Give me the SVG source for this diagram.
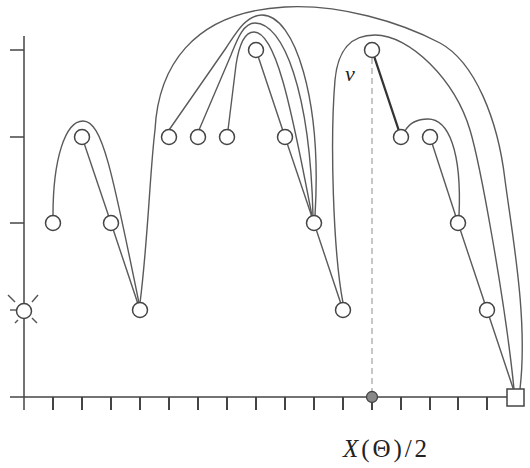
<svg xmlns="http://www.w3.org/2000/svg" width="530" height="468" viewBox="0 0 530 468">
<style>
.ax{stroke:#444;stroke-width:1.5;fill:none}
.tk{stroke:#444;stroke-width:2;fill:none}
.e{stroke:#5a5a5a;stroke-width:1.4;fill:none}
.c{stroke:#5a5a5a;stroke-width:1.4;fill:none}
.n{fill:#fff;stroke:#444;stroke-width:1.5}
.lbl{font-family:"Liberation Serif",serif;fill:#222}
</style>
<rect width="530" height="468" fill="#fff"/>
<g id="axes">
<line class="ax" x1="24" y1="36" x2="24" y2="410"/>
<line class="ax" x1="10" y1="397" x2="516" y2="397"/>
<line class="ax" x1="10" y1="50" x2="24" y2="50"/>
<line class="ax" x1="10" y1="137" x2="24" y2="137"/>
<line class="ax" x1="10" y1="223" x2="24" y2="223"/>
<g class="tk">
<line x1="53" y1="397" x2="53" y2="410"/><line x1="82" y1="397" x2="82" y2="410"/><line x1="111" y1="397" x2="111" y2="410"/><line x1="140" y1="397" x2="140" y2="410"/><line x1="169" y1="397" x2="169" y2="410"/><line x1="198" y1="397" x2="198" y2="410"/><line x1="227" y1="397" x2="227" y2="410"/><line x1="256" y1="397" x2="256" y2="410"/><line x1="285" y1="397" x2="285" y2="410"/><line x1="314" y1="397" x2="314" y2="410"/><line x1="343" y1="397" x2="343" y2="410"/><line x1="372" y1="397" x2="372" y2="410"/><line x1="401" y1="397" x2="401" y2="410"/><line x1="430" y1="397" x2="430" y2="410"/><line x1="458" y1="397" x2="458" y2="410"/><line x1="487" y1="397" x2="487" y2="410"/>
</g>
</g>
<g id="connectors">
<line class="e" x1="82" y1="137" x2="111" y2="223"/>
<line class="e" x1="111" y1="223" x2="140" y2="310"/>
<line class="e" x1="256" y1="50" x2="285" y2="137"/>
<line class="e" x1="285" y1="137" x2="314" y2="223"/>
<line class="e" x1="314" y1="223" x2="343" y2="310"/>
<line x1="372" y1="50" x2="401" y2="137" stroke="#333" stroke-width="2.3"/>
<line class="e" x1="430" y1="137" x2="458" y2="223"/>
<line class="e" x1="458" y1="223" x2="487" y2="310"/>
<line class="e" x1="487" y1="310" x2="516" y2="397"/>
<path class="c" d="M53,215 C53,160 65,121 83,121 C102,121 112,170 139,303"/>
<path class="c" d="M140,303 C148,240 150,170 155,130 C158,70 190,12 285,7 C340,4 400,22 440,43 C475,62 498,120 505,180 C513,240 528,320 520,389"/>
<path class="c" d="M169,130 L226,48 C236,33 246,15 262,15 C295,15 322,100 315,216"/>
<path class="c" d="M199,130 L231,55 C237,40 243,23 255,23 C283,23 310,90 313,216"/>
<path class="c" d="M228,130 L236,65 C239,45 244,32 254,32 C275,32 290,100 312,216"/>
<path class="c" d="M343,303 C333,250 330,140 335,80 C338,48 352,35 375,35 C410,35 455,80 470,130 C480,163 505,300 514,389"/>
<path class="c" d="M405,131 C410,122 418,119 428,119 C448,119 462,150 459,216"/>
<line x1="372" y1="58" x2="372" y2="391" stroke="#aaa" stroke-width="1.3" stroke-dasharray="6,4"/>
</g>
<g id="node-star">
<g stroke="#555" stroke-width="1.4">
<line x1="8" y1="295" x2="15" y2="302"/>
<line x1="38" y1="295" x2="32" y2="302"/>
<line x1="10" y1="310" x2="17" y2="310"/>
<line x1="15" y1="323" x2="18" y2="320"/>
<line x1="37" y1="323" x2="32" y2="318"/>
</g>
<circle class="n" cx="24" cy="311" r="7.5"/>
</g>
<g id="n1"><circle class="n" cx="53" cy="223" r="7.5"/></g>
<g id="n2"><circle class="n" cx="82" cy="137" r="7.5"/></g>
<g id="n3"><circle class="n" cx="111" cy="223" r="7.5"/></g>
<g id="n4"><circle class="n" cx="140" cy="310" r="7.5"/></g>
<g id="n5"><circle class="n" cx="169" cy="137" r="7.5"/></g>
<g id="n6"><circle class="n" cx="198" cy="137" r="7.5"/></g>
<g id="n7"><circle class="n" cx="227" cy="137" r="7.5"/></g>
<g id="n8"><circle class="n" cx="256" cy="50" r="7.5"/></g>
<g id="n9"><circle class="n" cx="285" cy="137" r="7.5"/></g>
<g id="n10"><circle class="n" cx="314" cy="223" r="7.5"/></g>
<g id="n11"><circle class="n" cx="343" cy="310" r="7.5"/></g>
<g id="v"><circle class="n" cx="372" cy="50" r="7.5"/><text class="lbl" x="345" y="81" font-size="22" font-style="italic">v</text></g>
<g id="n13"><circle class="n" cx="401" cy="137" r="7.5"/></g>
<g id="n14"><circle class="n" cx="430" cy="137" r="7.5"/></g>
<g id="n15"><circle class="n" cx="458" cy="223" r="7.5"/></g>
<g id="n16"><circle class="n" cx="487" cy="310" r="7.5"/></g>
<g id="root"><rect x="507" y="389" width="17" height="17" fill="#fff" stroke="#444" stroke-width="1.5"/></g>
<g id="marker-dot"><circle cx="372" cy="397" r="5.5" fill="#888" stroke="#444" stroke-width="1.3"/></g>
<text class="lbl" x="343" y="457" font-size="25" textLength="84" lengthAdjust="spacing"><tspan font-style="italic">X</tspan>(Θ)/2</text>
</svg>
